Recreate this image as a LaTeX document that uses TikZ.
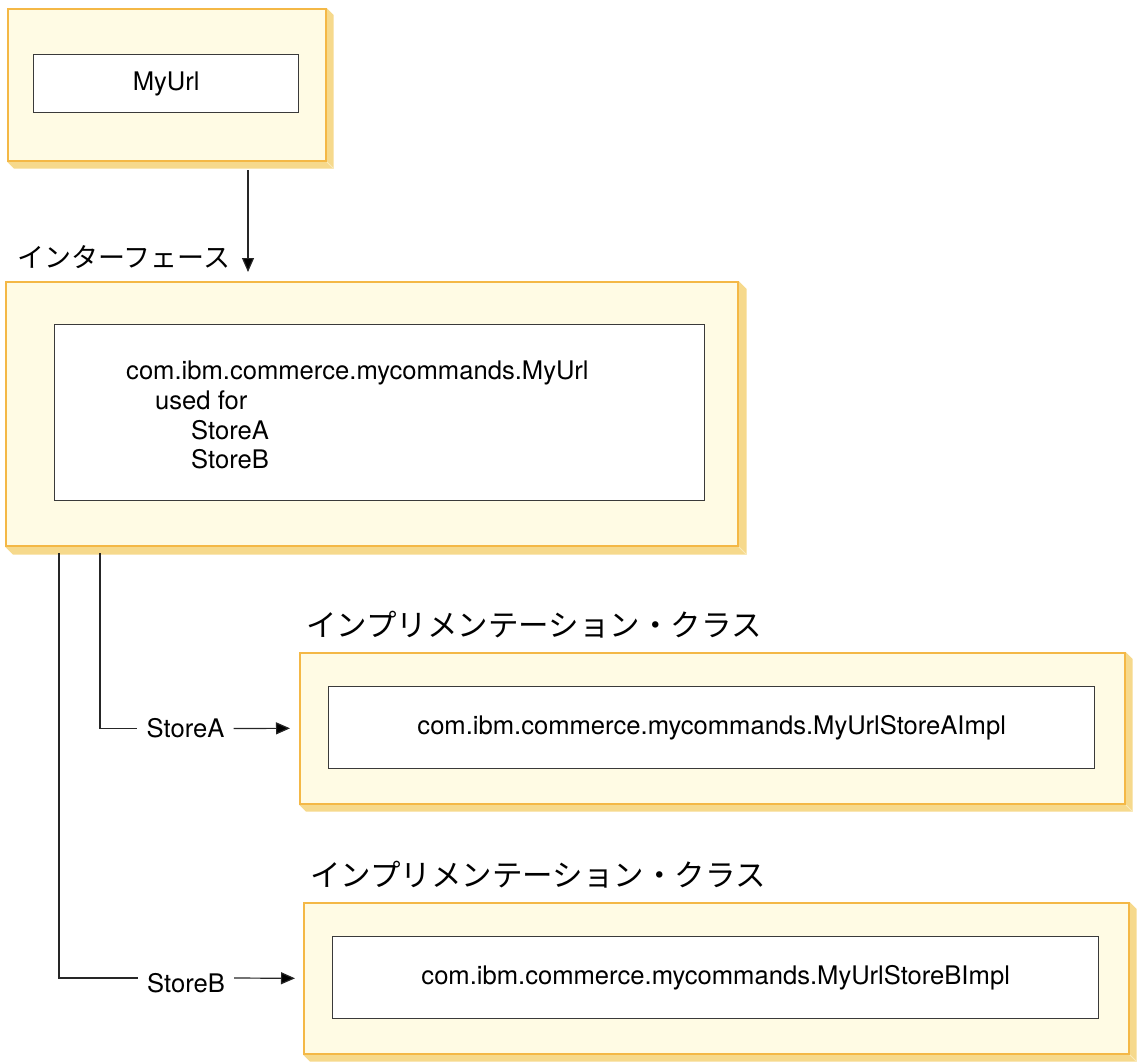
\documentclass[tikz,border=0pt]{standalone}
\usepackage{fontspec}
\setmainfont{TeX Gyre Heros}
\newfontfamily\jp{Noto Sans CJK JP}
\usetikzlibrary{calc,arrows.meta}

\definecolor{panelfill}{HTML}{FFFBE4}
\definecolor{paneledge}{HTML}{F4B846}
\definecolor{paneldepth}{HTML}{F6D98C}
\definecolor{inneredge}{HTML}{3A3A3A}

\tikzset{
  panel/.style={draw=paneledge, fill=panelfill, line width=1.6pt, inner sep=0pt, anchor=north west},
  slot/.style={draw=inneredge, fill=white, line width=1.4pt, inner sep=0pt, anchor=north west,
    font=\fontsize{25.6}{30}\selectfont},
  txt/.style={inner sep=0pt, font=\fontsize{25.6}{30}\selectfont},
  jlabel/.style={inner sep=0pt, anchor=west},
  link/.style={draw=black!85, line width=1.2pt},
  arrowlink/.style={link, -{Triangle[length=14pt,width=12pt,fill=black]}},
}

% raised edge drawn to the lower right of a panel (y grows downward here)
\newcommand{\paneldepth}[2]{%
  \fill[paneldepth] (#1.north east) -- ++(#2,#2) -- ($(#1.south east)+(#2,#2)$)
    -- ($(#1.south west)+(#2,#2)$) -- (#1.south west) -- cycle;
  \draw[panelfill!50!paneldepth, line width=0.8pt] (#1.south east) -- ++(#2,#2);
}

\begin{document}
\begin{tikzpicture}[x=1pt,y=-1pt]
\useasboundingbox (0,0) rectangle (1139,1061);

% MyUrl panel
\node[panel, minimum width=318pt, minimum height=152pt] (p1) at (7,8) {};
\paneldepth{p1}{7}
\node[panel, minimum width=318pt, minimum height=152pt] at (7,8) {};
\node[slot, minimum width=265pt, minimum height=58pt] (s1) at (33,54) {MyUrl};

% interface panel
\node[jlabel, font=\jp\fontsize{27}{30}\selectfont] (l1) at (17,257) {インターフェース};
\node[panel, minimum width=732pt, minimum height=264pt] (p2) at (5,281) {};
\paneldepth{p2}{8}
\node[panel, minimum width=732pt, minimum height=264pt] at (5,281) {};
\node[slot, minimum width=650pt, minimum height=176pt] (s2) at (54,324) {};
\node[txt, anchor=base west] (t1) at (126,379) {com.ibm.commerce.mycommands.MyUrl};
\node[txt, anchor=base west] (t2) at (155,409) {used for};
\node[txt, anchor=base west] (t3) at (191,439) {StoreA};
\node[txt, anchor=base west] (t4) at (191,468) {StoreB};

% StoreA implementation panel
\node[jlabel, font=\jp\fontsize{30.5}{30}\selectfont] (l2) at (306,625) {インプリメンテーション・クラス};
\node[panel, minimum width=825pt, minimum height=151pt] (p3) at (299,652) {};
\paneldepth{p3}{7}
\node[panel, minimum width=825pt, minimum height=151pt] at (299,652) {};
\node[slot, minimum width=766pt, minimum height=82pt] (s3) at (328,686) {com.ibm.commerce.mycommands.MyUrlStoreAImpl};

% StoreB implementation panel
\node[jlabel, font=\jp\fontsize{30.5}{30}\selectfont] (l3) at (310,875) {インプリメンテーション・クラス};
\node[panel, minimum width=825pt, minimum height=151pt] (p4) at (303,902) {};
\paneldepth{p4}{7}
\node[panel, minimum width=825pt, minimum height=151pt] at (303,902) {};
\node[slot, minimum width=766pt, minimum height=82pt] (s4) at (332,936) {com.ibm.commerce.mycommands.MyUrlStoreBImpl};

% connectors
\coordinate (c0) at (248,170);
\coordinate (c1) at (248,272);
\draw[arrowlink] (c0) -- (c1);

\node[txt, inner xsep=9pt] (ka) at (185.5,728.5) {StoreA};
\node[txt, inner xsep=9pt] (kb) at (186,983) {StoreB};
\coordinate (da) at (100,553);
\coordinate (db) at (59,553);
\draw[link] (da) |- (ka.west);
\draw[link] (db) |- ($(kb.west)+(0,-5)$);
\draw[arrowlink] (ka.east) -- ($(p3.west)+(-9,0)$);
\draw[arrowlink] ($(kb.east)+(0,-5)$) -- ($(p4.west)+(-8,0)$);
\end{tikzpicture}
\end{document}
